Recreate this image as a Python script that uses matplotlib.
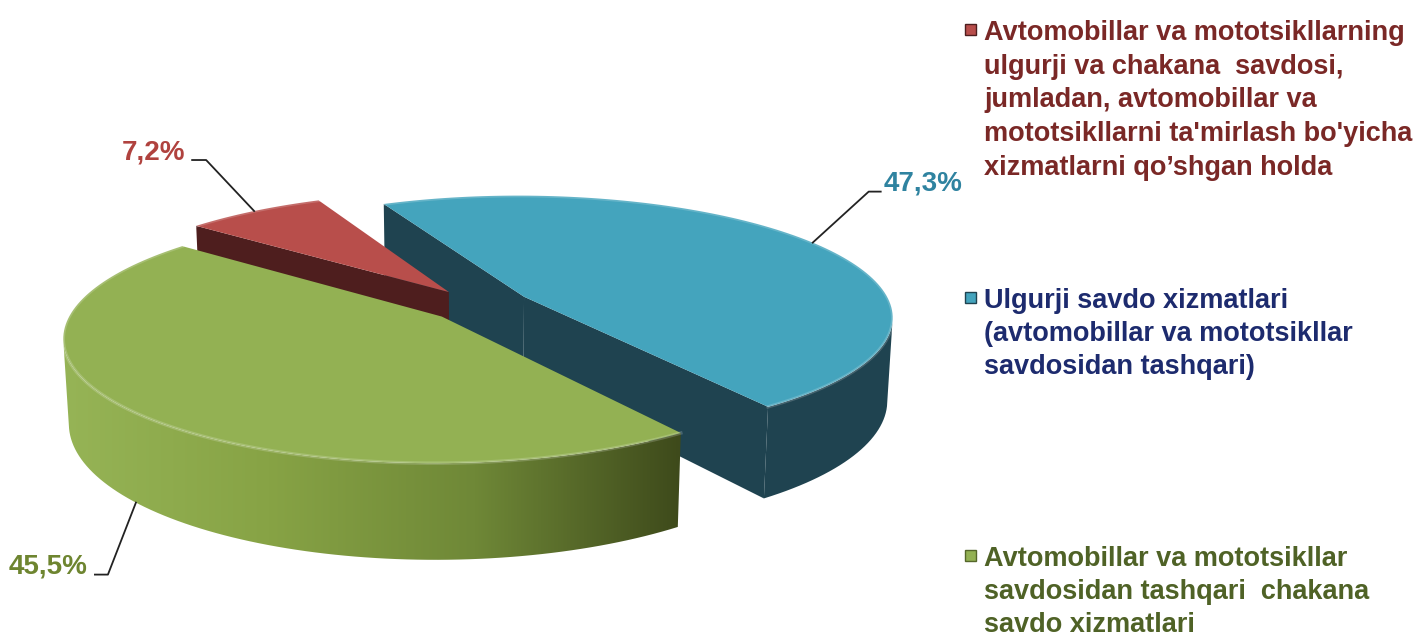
import numpy as np
import matplotlib

matplotlib.use("Agg")
import matplotlib.pyplot as plt
from matplotlib.patches import Polygon
from matplotlib.colors import LinearSegmentedColormap

# --- data -------------------------------------------------------------
legend_labels = [
    "Avtomobillar va mototsikllarning\nulgurji va chakana  savdosi,\n"
    "jumladan, avtomobillar va\nmototsikllarni ta'mirlash bo'yicha\n"
    "xizmatlarni qo\u2019shgan holda",
    "Ulgurji savdo xizmatlari\n(avtomobillar va mototsikllar\nsavdosidan tashqari)",
    "Avtomobillar va mototsikllar\nsavdosidan tashqari  chakana\nsavdo xizmatlari",
]
shares = [7.2, 47.3, 45.5]
pct_labels = ["7,2%", "47,3%", "45,5%"]

top_colors = ["#B84E4B", "#44A4BD", "#93B153"]
side_colors = ["#4E1E1E", "#1F4350", "#55672A"]
pct_colors = ["#B0423E", "#2F83A0", "#6E8530"]
legend_colors = ["#7A2826", "#1D2B6E", "#4F6226"]

# --- 3D pie projection (pixel space) ----------------------------------
PHI = np.radians(19)
DIST = 6.0
FOCAL = 2202
CX, CY = 480, 305
DEPTH = 0.24
EXPLODE = 0.14
START = -51.0  # compass degrees, clockwise


def project(u, v, h):
    c, s = np.cos(PHI), np.sin(PHI)
    z = v * c + DIST - h * s
    return CX + FOCAL * u / z, CY - FOCAL * (v * s + h * c) / z


CAM = np.array([0.0, -DIST * np.cos(PHI), DIST * np.sin(PHI)])


def facing(normal, point):
    return np.dot(normal, CAM - point) > 0


fig = plt.figure(figsize=(14.17, 6.32), dpi=100)
ax = fig.add_axes([0, 0, 1, 1])
ax.set_xlim(0, 1417)
ax.set_ylim(632, 0)
ax.axis("off")

sides, tops, anchors = [], [], []
t0 = START
for i, sh in enumerate(shares):
    t1 = t0 + sh * 3.6
    mid = np.radians((t0 + t1) / 2)
    ou, ov = EXPLODE * np.sin(mid), EXPLODE * np.cos(mid)
    th = np.radians(np.linspace(t0, t1, 120))
    au, av = ou + np.sin(th), ov + np.cos(th)
    ctop = project(ou, ov, 0)
    cbot = project(ou, ov, -DEPTH)
    xt, yt = project(au, av, 0)
    xb, yb = project(au, av, -DEPTH)
    tops.append((i, np.column_stack([np.r_[ctop[0], xt], np.r_[ctop[1], yt]]), ov))

    centre = np.array([ou, ov, 0.0])
    # radial faces
    a0, a1 = th[0], th[-1]
    if facing(np.array([-np.cos(a0), np.sin(a0), 0]), centre):
        poly = [ctop, (xt[0], yt[0]), (xb[0], yb[0]), cbot]
        sides.append((ov + 0.5 * np.cos(a0), i, np.array(poly), "flat"))
    if facing(np.array([np.cos(a1), -np.sin(a1), 0]), centre):
        poly = [ctop, (xt[-1], yt[-1]), (xb[-1], yb[-1]), cbot]
        sides.append((ov + 0.5 * np.cos(a1), i, np.array(poly), "flat"))
    # outer curved face, visible part only
    vis = np.array([facing(np.array([np.sin(a), np.cos(a), 0]),
                           np.array([au[k], av[k], 0]))
                    for k, a in enumerate(th)])
    if vis.any():
        idx = np.where(vis)[0]
        k0, k1 = idx[0], idx[-1] + 1
        poly = np.column_stack([np.r_[xt[k0:k1], xb[k0:k1][::-1]],
                                np.r_[yt[k0:k1], yb[k0:k1][::-1]]])
        sides.append((np.mean(av[k0:k1]), i, poly, "outer"))
    # label anchor: rim at mid angle, lower rim for front slices
    h_anchor = -DEPTH if np.cos(mid) < 0 else 0
    anchors.append(project(ou + np.sin(mid), ov + np.cos(mid), h_anchor))
    t0 = t1

green_side = LinearSegmentedColormap.from_list(
    "gs", ["#96B456", "#87A345", "#6F8837", "#3E4A1B"])

for depth, i, poly, kind in sorted(sides, key=lambda s: -s[0]):
    if kind == "outer" and i == 2:
        patch = Polygon(poly, closed=True, facecolor="none", edgecolor="none")
        ax.add_patch(patch)
        x0, x1 = poly[:, 0].min(), poly[:, 0].max()
        y0, y1 = poly[:, 1].min(), poly[:, 1].max()
        grad = np.linspace(0, 1, 256)[None, :]
        im = ax.imshow(grad, cmap=green_side, extent=(x0, x1, y1, y0),
                       aspect="auto", zorder=1)
        im.set_clip_path(patch)
    else:
        ax.add_patch(Polygon(poly, closed=True, facecolor=side_colors[i],
                             edgecolor="none", zorder=1))

for i, poly, ov in tops:
    ax.add_patch(Polygon(poly, closed=True, facecolor=top_colors[i],
                         edgecolor="none", zorder=2))
    ax.plot(poly[1:, 0], poly[1:, 1], color="white", alpha=0.18, lw=2.5, zorder=2.5)

# --- percentage labels with leader lines ------------------------------
label_font = ["Liberation Sans Narrow", "Liberation Sans", "DejaVu Sans"]
# (elbow offset, line end offset) from the anchor, in pixels
leader = [((-48, -51), (-62, -51)), ((56, -51), (68, -51)), ((-28, 72), (-41, 72))]
for i, (px, py) in enumerate(anchors):
    (ex, ey), (tx, ty) = leader[i]
    ax.plot([px, px + ex, px + tx], [py, py + ey, py + ty],
            color="#222222", lw=1.3, zorder=3)
    right = tx > ex
    ax.text(px + tx + (3 if right else -7), py + ty - 8, pct_labels[i],
            ha="left" if right else "right", va="center", fontsize=20,
            fontweight="bold", color=pct_colors[i], family=label_font)

# --- legend -------------------------------------------------------------
legend_base = [40, 308, 566]
legend_step = [33.7, 33, 33]
for i, text in enumerate(legend_labels):
    ax.add_patch(plt.Rectangle((965, legend_base[i] - 16), 11, 11,
                               facecolor=top_colors[i], edgecolor=side_colors[i],
                               lw=1.0, zorder=3))
    for k, line in enumerate(text.split("\n")):
        ax.text(984, legend_base[i] + k * legend_step[i], line, ha="left",
                va="baseline", fontsize=19.5, fontweight="bold",
                color=legend_colors[i],
                family=["Liberation Sans", "DejaVu Sans"])

fig.savefig("out.png", dpi=100)
